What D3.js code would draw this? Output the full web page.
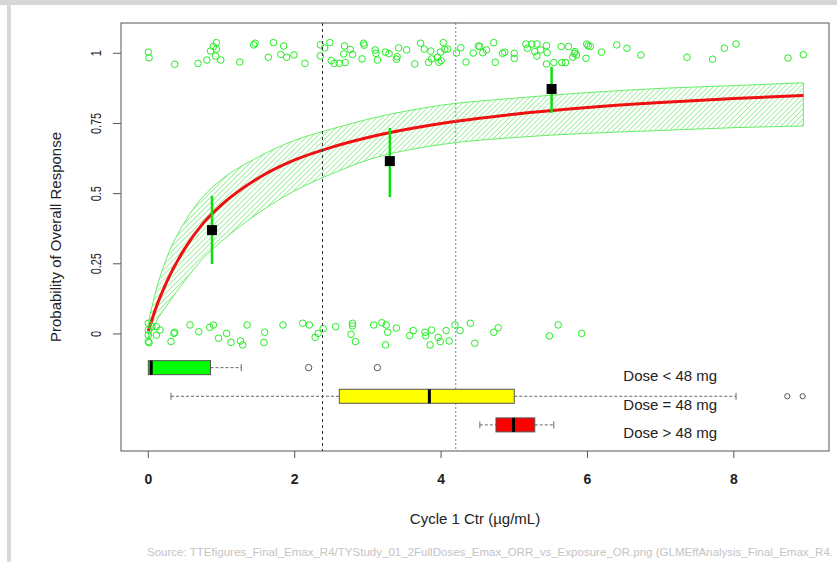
<!DOCTYPE html>
<html>
<head>
<meta charset="utf-8">
<script src="https://cdn.jsdelivr.net/npm/d3@7"></script>
<style>
  html, body { margin: 0; padding: 0; background: #fff; }
  svg { display: block; font-family: "Liberation Sans", Arial, Helvetica, sans-serif; }
</style>
</head>
<body>
<svg id="chart" width="837" height="562"></svg>
<script>
// Emax model fit of overall response vs. cycle 1 trough concentration
const fitX     = [0, 0.1, 0.25, 0.5, 0.75, 1.0, 1.5, 2.0, 2.5, 3.0, 4.0, 5.0, 6.0, 7.0, 8.0, 8.95];
const fitP     = [0.01, 0.09, 0.185, 0.305, 0.395, 0.46, 0.555, 0.62, 0.665, 0.70, 0.75, 0.783, 0.807, 0.825, 0.839, 0.85];
const fitLower = [-0.02, 0.04, 0.10, 0.19, 0.27, 0.33, 0.43, 0.51, 0.57, 0.62, 0.675, 0.70, 0.715, 0.725, 0.735, 0.741];
const fitUpper = [0.04, 0.15, 0.27, 0.40, 0.49, 0.55, 0.63, 0.69, 0.73, 0.765, 0.815, 0.84, 0.86, 0.875, 0.885, 0.895];

// Observed response rate by exposure tertile, with 95% CI
const obsX  = [0.87, 3.30, 5.51];
const obsP  = [0.37, 0.616, 0.873];
const obsLo = [0.249, 0.488, 0.788];
const obsHi = [0.492, 0.734, 0.952];

// Individual patients (jittered): responders
const respX = [0.00, 0.01, 0.36, 0.68, 0.80, 0.85, 0.89, 0.93, 0.93, 0.92, 0.99, 1.25, 1.44, 1.46, 1.64, 1.71, 1.81, 1.85, 1.89, 1.99,
  2.14, 2.35, 2.35, 2.41, 2.48, 2.50, 2.54, 2.61, 2.67, 2.68, 2.69, 2.76, 2.79, 2.92, 2.94, 2.95, 3.10, 3.11, 3.13, 3.24,
  3.29, 3.39, 3.40, 3.42, 3.53, 3.64, 3.72, 3.77, 3.83, 3.86, 3.87, 3.95, 3.97, 4.00, 3.99, 4.03, 4.05, 4.09, 4.21, 4.27,
  4.34, 4.44, 4.51, 4.53, 4.57, 4.62, 4.72, 4.74, 4.84, 4.87, 5.00, 5.00, 5.16, 5.18, 5.24, 5.28, 5.31, 5.31, 5.36, 5.44,
  5.45, 5.44, 5.54, 5.64, 5.65, 5.70, 5.74, 5.80, 5.82, 5.83, 5.85, 5.98, 5.99, 6.01, 6.04, 6.19, 6.40, 6.54, 6.73, 7.36,
  7.71, 7.87, 8.03, 8.74, 8.95];
const respY = [1.004, 0.984, 0.961, 0.964, 0.976, 1.008, 1.024, 1.038, 1.015, 0.990, 0.976, 0.969, 1.030, 1.036, 0.986, 1.038, 0.996, 1.026, 0.986, 0.994,
  0.964, 1.030, 0.991, 1.019, 1.038, 0.974, 0.964, 0.964, 0.998, 1.026, 0.967, 1.014, 0.996, 0.980, 1.036, 1.029, 1.012, 1.000, 0.976, 1.004,
  0.999, 0.979, 0.988, 1.019, 1.012, 0.962, 1.036, 1.015, 0.968, 1.008, 0.980, 0.986, 0.968, 0.974, 1.004, 1.038, 1.014, 1.015, 1.001, 1.020,
  0.969, 1.001, 1.026, 1.024, 1.002, 1.012, 1.038, 0.968, 1.000, 1.004, 1.000, 0.982, 1.033, 1.018, 1.033, 1.006, 1.033, 0.990, 1.012, 1.027,
  1.002, 0.962, 0.967, 1.024, 0.967, 0.967, 1.024, 0.986, 1.000, 1.006, 0.994, 0.982, 1.033, 1.027, 1.024, 1.004, 1.030, 1.018, 0.994, 0.986,
  0.979, 1.018, 1.033, 0.983, 0.995];

// Individual patients (jittered): non-responders
const nonRespX = [0.00, 0.00, 0.00, 0.00, 0.01, 0.05, 0.11, 0.16, 0.11, 0.31, 0.35, 0.36, 0.57, 0.69, 0.84, 0.89, 0.96, 1.07, 1.13, 1.26,
  1.29, 1.35, 1.59, 1.58, 1.84, 2.11, 2.20, 2.28, 2.32, 2.39, 2.56, 2.79, 2.79, 2.77, 2.83, 3.08, 3.19, 3.25, 3.27, 3.24,
  3.39, 3.57, 3.62, 3.78, 3.79, 3.85, 3.87, 3.96, 3.99, 4.07, 4.11, 4.19, 4.26, 4.40, 4.46, 4.72, 4.78, 5.48, 5.60, 5.92];
const nonRespY = [0.038, 0.014, -0.004, -0.027, -0.031, 0.026, 0.026, 0.014, -0.004, -0.027, 0.002, 0.006, 0.032, 0.008, 0.024, 0.032, -0.015, 0.002, -0.030, -0.025,
  -0.039, 0.032, 0.006, -0.030, 0.032, 0.038, 0.032, -0.012, 0.002, 0.019, 0.026, 0.038, 0.029, -0.001, -0.027, 0.032, 0.040, 0.032, 0.006, -0.039,
  0.021, -0.006, 0.012, 0.006, -0.007, -0.039, 0.014, -0.012, -0.027, 0.012, -0.025, 0.032, 0.012, 0.038, -0.033, 0.006, 0.022, -0.007, 0.032, 0.002];

// Exposure distribution by dose group
const doseGroups   = ["Dose < 48 mg", "Dose = 48 mg", "Dose > 48 mg"];
const doseColors   = ["#00ff00", "#ffff00", "#ff0000"];
const whiskerLow   = [0.00, 0.31, 4.53];
const quartile1    = [0.00, 2.61, 4.75];
const medians      = [0.04, 3.84, 4.99];
const quartile3    = [0.85, 5.00, 5.28];
const whiskerHigh  = [1.27, 8.03, 5.54];
const outliers     = [[2.19, 3.13], [8.73, 8.94], []];

// Exposure cut-offs
const cutBlack = 2.38;
const cutGrey  = 4.2;

// Axis ticks
const xTicks = [0, 2, 4, 6, 8];
const yTicks = [0, 0.25, 0.5, 0.75, 1];
const yTickLabels = ["0", "0.25", "0.5", "0.75", "1"];

const svg = d3.select("#chart");
const pLeft = 121, pRight = 829, pTop = 23, pBottom = 451;

const x = d3.scaleLinear().domain([-0.373, 9.30]).range([pLeft, pRight]);
const y = d3.scaleLinear().domain([-0.417, 1.108]).range([pBottom, pTop]);

// page frame
svg.append("rect").attr("x", 0).attr("y", 0).attr("width", 837).attr("height", 5).attr("fill", "#d7d7d7");
svg.append("rect").attr("x", 7).attr("y", 5).attr("width", 4).attr("height", 557).attr("fill", "#d9d9d9");

const defs = svg.append("defs");
const pat = defs.append("pattern").attr("id", "hatch")
  .attr("patternUnits", "userSpaceOnUse").attr("width", 3.6).attr("height", 3.6)
  .attr("patternTransform", "rotate(45)");
pat.append("line").attr("x1", 0).attr("y1", 0).attr("x2", 0).attr("y2", 3.6)
  .attr("stroke", "#4fe04f").attr("stroke-width", 1);

defs.append("clipPath").attr("id", "plotClip").append("rect")
  .attr("x", pLeft).attr("y", pTop).attr("width", pRight - pLeft).attr("height", pBottom - pTop);

const plot = svg.append("g").attr("clip-path", "url(#plotClip)");

// confidence band
const fitData = fitX.map((v, i) => ({ x: v, p: fitP[i], lo: fitLower[i], hi: fitUpper[i] }));
plot.append("path").datum(fitData)
  .attr("d", d3.area().x(d => x(d.x)).y0(d => y(d.lo)).y1(d => y(d.hi)).curve(d3.curveMonotoneX))
  .attr("fill", "url(#hatch)").attr("stroke", "#66ee66").attr("stroke-width", 1);

// fitted curve
plot.append("path").datum(fitData)
  .attr("d", d3.line().x(d => x(d.x)).y(d => y(d.p)).curve(d3.curveMonotoneX))
  .attr("fill", "none").attr("stroke", "#ee1111").attr("stroke-width", 3);

// individual patients
const pts = respX.map((v, i) => ({ x: v, y: respY[i] }))
  .concat(nonRespX.map((v, i) => ({ x: v, y: nonRespY[i] })));
plot.selectAll("circle.pt").data(pts).join("circle").attr("class", "pt")
  .attr("cx", d => x(d.x)).attr("cy", d => y(d.y)).attr("r", 3.3)
  .attr("fill", "none").attr("stroke", "#22ee22").attr("stroke-width", 1);

// observed rates with CI
obsX.forEach((v, i) => {
  plot.append("line").attr("x1", x(v)).attr("x2", x(v)).attr("y1", y(obsLo[i])).attr("y2", y(obsHi[i]))
    .attr("stroke", "#11dd11").attr("stroke-width", 2.5);
  plot.append("rect").attr("x", x(v) - 5).attr("y", y(obsP[i]) - 5).attr("width", 10).attr("height", 10)
    .attr("fill", "#000");
});

// cut-off lines
plot.append("line").attr("x1", x(cutBlack)).attr("x2", x(cutBlack)).attr("y1", pTop).attr("y2", pBottom)
  .attr("stroke", "#333").attr("stroke-width", 1).attr("stroke-dasharray", "3,3");
plot.append("line").attr("x1", x(cutGrey)).attr("x2", x(cutGrey)).attr("y1", pTop).attr("y2", pBottom)
  .attr("stroke", "#999").attr("stroke-width", 1.2).attr("stroke-dasharray", "2,2");

// box plots of exposure per dose group
doseGroups.forEach((g, i) => {
  const lvl = y(-0.12 - i * 0.102);
  const bh = 7;
  // group label
  svg.append("text").attr("x", x(6.49)).attr("y", lvl + 13.5)
    .attr("font-size", 15).attr("fill", "#222").text(g);
  const wg = svg.append("g");
  // whiskers
  if (whiskerLow[i] < quartile1[i]) {
    wg.append("line").attr("x1", x(whiskerLow[i])).attr("x2", x(quartile1[i])).attr("y1", lvl).attr("y2", lvl)
      .attr("stroke", "#666").attr("stroke-dasharray", "3,2");
    wg.append("line").attr("x1", x(whiskerLow[i])).attr("x2", x(whiskerLow[i])).attr("y1", lvl - 3.5).attr("y2", lvl + 3.5)
      .attr("stroke", "#666");
  }
  wg.append("line").attr("x1", x(quartile3[i])).attr("x2", x(whiskerHigh[i])).attr("y1", lvl).attr("y2", lvl)
    .attr("stroke", "#666").attr("stroke-dasharray", "3,2");
  wg.append("line").attr("x1", x(whiskerHigh[i])).attr("x2", x(whiskerHigh[i])).attr("y1", lvl - 3.5).attr("y2", lvl + 3.5)
    .attr("stroke", "#666");
  // box
  wg.append("rect").attr("x", x(quartile1[i])).attr("y", lvl - bh)
    .attr("width", x(quartile3[i]) - x(quartile1[i])).attr("height", 2 * bh)
    .attr("fill", doseColors[i]).attr("stroke", "#555").attr("stroke-width", 1);
  wg.append("line").attr("x1", x(medians[i])).attr("x2", x(medians[i])).attr("y1", lvl - bh).attr("y2", lvl + bh)
    .attr("stroke", "#000").attr("stroke-width", 3);
  // outliers
  wg.selectAll("circle").data(outliers[i]).join("circle")
    .attr("cx", d => x(d)).attr("cy", lvl).attr("r", i === 0 ? 3.2 : 2.6)
    .attr("fill", "none").attr("stroke", "#555").attr("stroke-width", 1);
});

// plot frame
svg.append("rect").attr("x", pLeft).attr("y", pTop).attr("width", pRight - pLeft).attr("height", pBottom - pTop)
  .attr("fill", "none").attr("stroke", "#555").attr("stroke-width", 1);

// x axis
const xa = svg.append("g");
xTicks.forEach(t => {
  xa.append("line").attr("x1", x(t)).attr("x2", x(t)).attr("y1", pBottom).attr("y2", pBottom + 7)
    .attr("stroke", "#555");
  xa.append("text").attr("x", x(t)).attr("y", 484).attr("text-anchor", "middle")
    .attr("font-size", 14).attr("font-weight", "bold").attr("fill", "#222").text(t);
});
svg.append("text").attr("x", (pLeft + pRight) / 2).attr("y", 524).attr("text-anchor", "middle")
  .attr("font-size", 15).attr("fill", "#222").text("Cycle 1 Ctr (µg/mL)");

// y axis
const ya = svg.append("g");
yTicks.forEach((t, i) => {
  ya.append("line").attr("x1", pLeft - 8).attr("x2", pLeft).attr("y1", y(t)).attr("y2", y(t))
    .attr("stroke", "#555");
  ya.append("text").attr("transform", `translate(101,${y(t)}) rotate(-90) scale(0.75,1)`)
    .attr("text-anchor", "middle").attr("font-size", 14.5).attr("fill", "#222").text(yTickLabels[i]);
});
svg.append("text").attr("transform", `translate(61,${(pTop + pBottom) / 2}) rotate(-90)`)
  .attr("text-anchor", "middle").attr("font-size", 15).attr("fill", "#222").text("Probability of Overall Response");

// source note
svg.append("text").attr("x", 147).attr("y", 556).attr("font-size", 11.6).attr("fill", "#c4c4c4")
  .attr("textLength", 686).attr("lengthAdjust", "spacingAndGlyphs")
  .text("Source: TTEfigures_Final_Emax_R4/TYStudy_01_2FullDoses_Emax_ORR_vs_Exposure_OR.png (GLMEffAnalysis_Final_Emax_R4.");
</script>
</body>
</html>
